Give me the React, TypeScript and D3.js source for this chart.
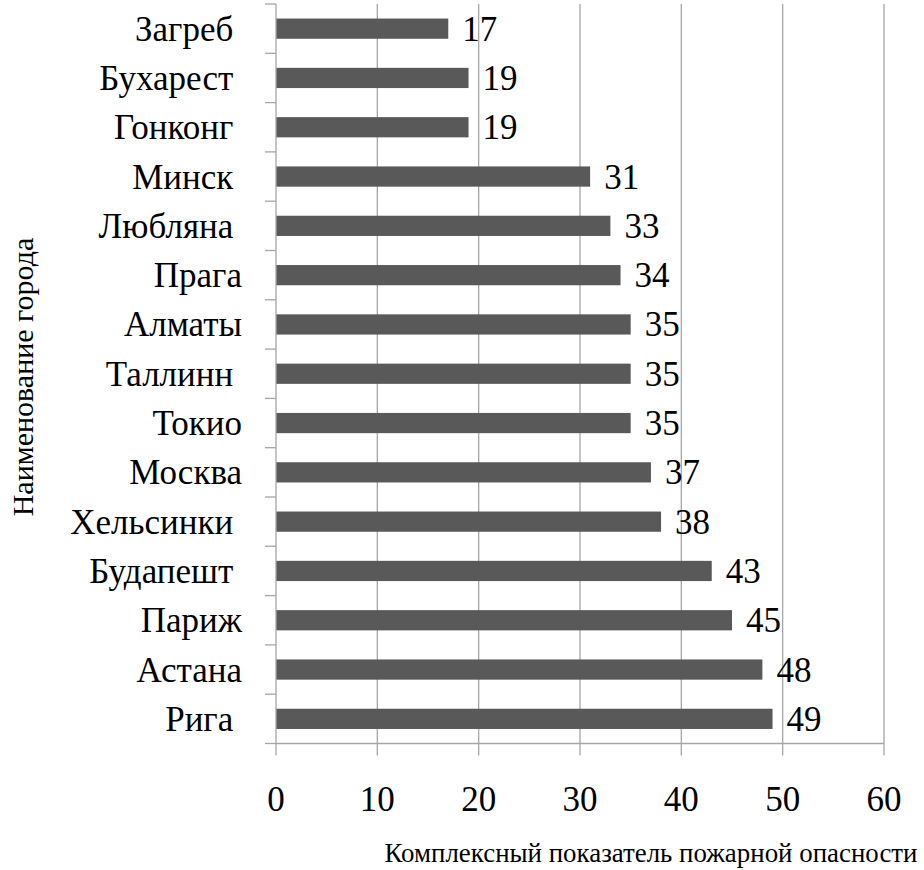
import React from 'react';
import * as d3 from 'd3';

const cities = ['Загреб ', 'Бухарест ', 'Гонконг ', 'Минск ', 'Любляна ', 'Прага', 'Алматы', 'Таллинн ', 'Токио', 'Москва', 'Хельсинки ', 'Будапешт ', 'Париж', 'Астана', 'Рига '];
const values = [17, 19, 19, 31, 33, 34, 35, 35, 35, 37, 38, 43, 45, 48, 49];
const xTicks = [0, 10, 20, 30, 40, 50, 60];

const W = 924;
const H = 870;
const left = 276;
const right = 884;
const top = 4;
const bottom = 743.5;
const fam = '"Liberation Serif"';
const txt = { fontFamily: fam, whiteSpace: 'pre' as const };

// big sizes fall back to a sans face unless textLength is set, so measure at 28px and scale
const ctx = typeof document !== 'undefined' ? document.createElement('canvas').getContext('2d') : null;
const textLen = (s: string, size: number) => {
  if (!ctx) return undefined;
  ctx.font = `28px ${fam}`;
  return (ctx.measureText(s).width * size) / 28;
};

export default function App() {
  const x = d3.scaleLinear().domain([0, 60]).range([left, right]);
  const y = d3.scaleBand<string>().domain(cities).range([top, bottom]).paddingInner(0.59).paddingOuter(0.295);
  const step = y.step();
  const bounds = d3.range(cities.length + 1).map((i) => top + i * step);
  const mid = (c: string) => y(c)! + y.bandwidth() / 2;

  return (
    <svg width={W} height={H} style={{ position: 'absolute', left: 0, top: 0, background: '#fff' }}>
      {/* vertical gridlines */}
      {xTicks.slice(1).map((t) => (
        <line key={t} x1={x(t)} x2={x(t)} y1={top} y2={bottom} stroke="#a6a6a6" strokeWidth={1.3} />
      ))}
      {/* bars */}
      {cities.map((c, i) => (
        <rect key={c} x={x(0)} y={y(c)!} width={x(values[i]) - x(0)} height={y.bandwidth()} fill="#595959" />
      ))}
      {/* axes */}
      <line x1={left} x2={left} y1={top} y2={bottom} stroke="#a6a6a6" strokeWidth={1.3} />
      <line x1={left} x2={right} y1={bottom} y2={bottom} stroke="#a6a6a6" strokeWidth={1.3} />
      {bounds.map((b, i) => (
        <line key={i} x1={left - 11} x2={left} y1={b} y2={b} stroke="#a6a6a6" strokeWidth={1.3} />
      ))}
      {xTicks.map((t) => (
        <line key={t} x1={x(t)} x2={x(t)} y1={bottom} y2={bottom + 12} stroke="#a6a6a6" strokeWidth={1.3} />
      ))}
      {/* value labels */}
      {cities.map((c, i) => (
        <text key={c} x={x(values[i]) + 14} y={mid(c) + 12} fontSize={35} textLength={textLen(String(values[i]), 35)} fill="#000" style={txt}>
          {values[i]}
        </text>
      ))}
      {/* category labels */}
      {cities.map((c) => (
        <text key={c} x={242} y={mid(c) + 12} textAnchor="end" fontSize={35} textLength={textLen(c, 35)} fill="#000" style={txt}>
          {c}
        </text>
      ))}
      {/* x tick labels */}
      {xTicks.map((t) => (
        <text key={t} x={x(t)} y={811} textAnchor="middle" fontSize={35} textLength={textLen(String(t), 35)} fill="#000" style={txt}>
          {t}
        </text>
      ))}
      <text x={651} y={862} textAnchor="middle" fontSize={27} textLength={533} lengthAdjust="spacingAndGlyphs" fill="#000" style={txt}>
        Комплексный показатель пожарной опасности
      </text>
      <text transform="translate(33, 377) rotate(-90)" textAnchor="middle" fontSize={30} textLength={textLen('Наименование города', 30)} fill="#000" style={txt}>
        Наименование города
      </text>
    </svg>
  );
}
